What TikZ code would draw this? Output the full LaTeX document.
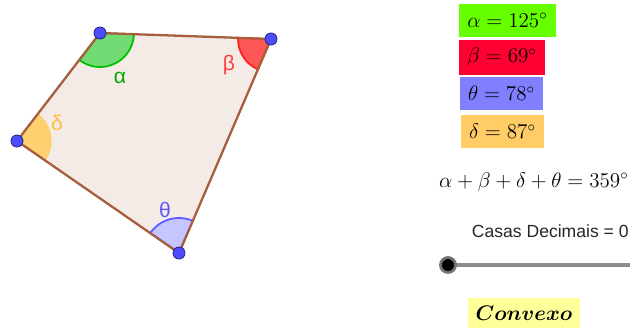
\documentclass[tikz,border=0pt]{standalone}
\usepackage{fontspec}
\newfontfamily\geofont{Liberation Sans}
\usepackage{amsmath}

\definecolor{edgebrown}{RGB}{166,94,60}
\definecolor{polyfill}{RGB}{244,235,230}
\definecolor{ptblue}{RGB}{77,77,255}
\definecolor{alphagreen}{RGB}{0,190,0}
\definecolor{betared}{RGB}{255,30,30}
\definecolor{thetablue}{RGB}{90,90,255}
\definecolor{deltaorange}{RGB}{255,192,64}
\definecolor{boxgreen}{RGB}{102,255,0}
\definecolor{boxred}{RGB}{255,0,51}
\definecolor{boxblue}{RGB}{128,128,255}
\definecolor{boxorange}{RGB}{255,204,102}
\definecolor{boxyellow}{RGB}{255,255,153}

\tikzset{
  side/.style={draw=edgebrown, line width=1.3pt},
  vertexpt/.style={fill=ptblue, draw=ptblue!55!black, line width=0.5pt},
  anglelbl/.style={font=\geofont\large, inner sep=1pt},
  valuebox/.style={font=\large, minimum height=0.66cm, inner sep=2pt, text=black}
}

\begin{document}
\begin{tikzpicture}[x=0.02cm, y=-0.02cm]
    \useasboundingbox (0,0) rectangle (630,329);

    % quadrilateral vertices
    \coordinate (A) at (100,33);
    \coordinate (B) at (271,39);
    \coordinate (C) at (179,253);
    \coordinate (D) at (17,141);

    \fill[polyfill] (A) -- (B) -- (C) -- (D) -- cycle;

    % angle sectors
    \filldraw[draw=alphagreen, fill=alphagreen!55, line width=1pt]  (A) -- ++(127.5:34) arc (127.5:2:34) -- cycle;
    \filldraw[draw=betared, fill=betared!75, line width=1pt]        (B) -- ++(113.3:33) arc (113.3:182:33) -- cycle;
    \filldraw[draw=thetablue, fill=thetablue!35, line width=1pt]    (C) -- ++(-145.3:35) arc (-145.3:-66.7:35) -- cycle;
    \filldraw[draw=deltaorange!80, fill=deltaorange!75, line width=0.6pt] (D) -- ++(-52.5:34) arc (-52.5:34.7:34) -- cycle;

    \draw[side] (A) -- (B) -- (C) -- (D) -- cycle;

    \filldraw[vertexpt] (A) circle (6);
    \filldraw[vertexpt] (B) circle (6);
    \filldraw[vertexpt] (C) circle (6);
    \filldraw[vertexpt] (D) circle (6);

    % angle labels
    \node[anglelbl, text=alphagreen!90!black] (la) at (120,78)  {α};
    \node[anglelbl, text=betared!85]          (lb) at (229,65)  {β};
    \node[anglelbl, text=deltaorange]         (ld) at (57,123)  {δ};
    \node[anglelbl, text=thetablue]           (lt) at (165,210) {θ};

    % values
    \node[valuebox, fill=boxgreen,  minimum width=1.94cm] (va) at (507.5,20.5) {$\alpha = 125^\circ$};
    \node[valuebox, fill=boxred,    minimum width=1.72cm, minimum height=0.7cm] (vb) at (502,57.5) {$\beta = 69^\circ$};
    \node[valuebox, fill=boxblue,   minimum width=1.66cm] (vt) at (501.5,93.5) {$\theta = 78^\circ$};
    \node[valuebox, fill=boxorange, minimum width=1.66cm] (vd) at (502.5,131.5) {$\delta = 87^\circ$};

    \node[font=\large, anchor=east, inner sep=0pt] (sum) at (629,182) {$\alpha + \beta + \delta + \theta = 359^\circ$};

    % slider
    \node[font=\geofont\normalsize, anchor=east, inner sep=0pt, text=black!85] (casas) at (629,231) {Casas Decimais = 0};
    \coordinate (s0) at (448,265);
    \coordinate (s1) at (630,265);
    \draw[black!45, line width=2.8pt] (s0) -- (s1);
    \filldraw[fill=black, draw=black!55, line width=1.6pt] (s0) circle (7.5);

    \node[fill=boxyellow, font=\large\boldmath, minimum width=2.24cm, minimum height=0.6cm, inner sep=0pt] (conv) at (524,313) {$Convexo$};
\end{tikzpicture}
\end{document}
